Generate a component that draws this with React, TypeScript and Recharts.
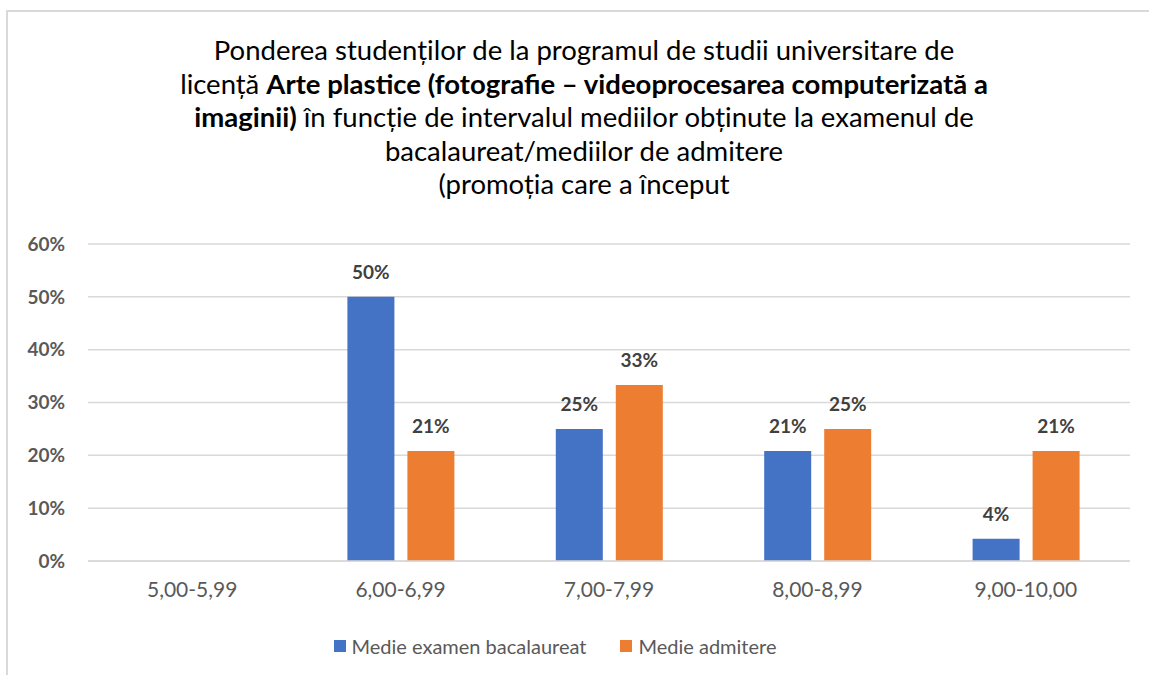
import React from 'react';
import { BarChart, Bar, XAxis, YAxis, CartesianGrid, Legend, LabelList } from 'recharts';

const categories = ['5,00-5,99', '6,00-6,99', '7,00-7,99', '8,00-8,99', '9,00-10,00'];
const bacalaureat = [0, 50, 25, 20.8, 4.2];
const admitere = [0, 20.8, 33.3, 25, 20.8];
const yTicks = [0, 10, 20, 30, 40, 50, 60];
const seriesNames = ['Medie examen bacalaureat', 'Medie admitere'];
const colors = ['#4472C4', '#ED7D31'];

const titleLines: { t: string; b?: boolean }[][] = [
  [{ t: 'Ponderea studenților de la programul de studii universitare de' }],
  [{ t: 'licență ' }, { t: 'Arte plastice (fotografie – videoprocesarea computerizată a', b: true }],
  [{ t: 'imaginii)', b: true }, { t: ' în funcție de intervalul mediilor obținute la examenul de' }],
  [{ t: 'bacalaureat/mediilor de admitere' }],
  [{ t: '(promoția care a început' }],
];

const data = categories.map((c, i) => ({ cat: c, bac: bacalaureat[i], adm: admitere[i] }));

const FONT = 'Lato, "Open Sans", sans-serif';

const fmtLabel = (v: any) => (v ? `${Math.round(Number(v))}%` : '');

const LegendContent = () => (
  <div style={{ height: 30, display: 'flex', justifyContent: 'center', alignItems: 'center', fontFamily: FONT, fontSize: 20, color: '#595959', paddingRight: 20 }}>
    {seriesNames.map((n, i) => (
      <div key={n} style={{ display: 'flex', alignItems: 'center', marginLeft: i ? 34 : 0 }}>
        <div style={{ width: 12, height: 12, background: colors[i], marginRight: 6 }} />
        <span>{n}</span>
      </div>
    ))}
  </div>
);

export default function App() {
  return (
    <div style={{ position: 'fixed', left: 0, top: 0, width: 1149, height: 675, overflow: 'hidden', background: '#fff' }}>
      <div style={{ position: 'absolute', left: 6, top: 10, width: 1200, height: 720, border: '2px solid #d9d9d9', boxSizing: 'border-box' }} />
      <div style={{ position: 'absolute', left: 0, top: 0 }}>
        <BarChart width={1149} height={675} data={data} margin={{ top: 244, right: 19, left: 0, bottom: 14 }} barGap={13} barSize={47}>
          <CartesianGrid vertical={false} stroke="#d9d9d9" strokeWidth={1.5} />
          <XAxis dataKey="cat" height={70} tickLine={false} tickSize={0} tickMargin={21} axisLine={{ stroke: '#d9d9d9', strokeWidth: 1.5 }}
            tick={{ fill: '#595959', fontSize: 21, fontFamily: FONT }} interval={0} />
          <YAxis width={88} domain={[0, 60]} ticks={yTicks} tickFormatter={(v) => `${v}%`} axisLine={false} tickLine={false} tickSize={0} tickMargin={23}
            tick={{ fill: '#595959', fontSize: 19, fontWeight: 700, fontFamily: FONT }} />
          <Legend verticalAlign="bottom" content={<LegendContent />} />
          <Bar dataKey="bac" name={seriesNames[0]} fill={colors[0]} isAnimationActive={false}>
            <LabelList dataKey="bac" position="top" offset={18} formatter={fmtLabel} fill="#404040" fontSize={19} fontWeight={700} fontFamily={FONT} />
          </Bar>
          <Bar dataKey="adm" name={seriesNames[1]} fill={colors[1]} isAnimationActive={false}>
            <LabelList dataKey="adm" position="top" offset={18} formatter={fmtLabel} fill="#404040" fontSize={19} fontWeight={700} fontFamily={FONT} />
          </Bar>
        </BarChart>
      </div>
      <div style={{ position: 'absolute', left: 0, top: 33, width: 1168, textAlign: 'center', fontFamily: FONT, fontSize: 27.5, lineHeight: '33.5px', color: '#000' }}>
        {titleLines.map((line, i) => (
          <div key={i}>
            {line.map((s, j) => (
              <span key={j} style={{ fontWeight: s.b ? 700 : 400 }}>{s.t}</span>
            ))}
          </div>
        ))}
      </div>
    </div>
  );
}
